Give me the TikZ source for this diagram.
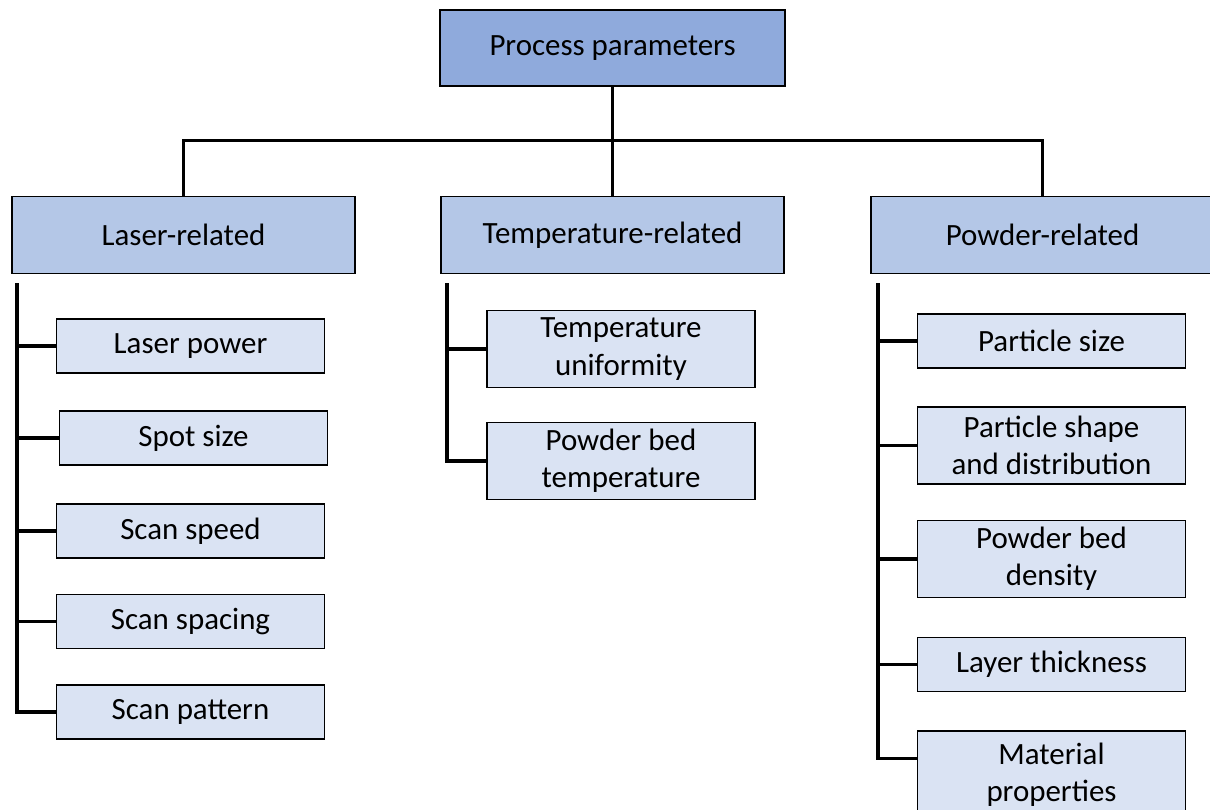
\documentclass[tikz,border=0pt]{standalone}
\usepackage{fontspec}
\setmainfont{Carlito}
\usepackage{tikz}
\usetikzlibrary{positioning, calc}

\definecolor{rootblue}{HTML}{8FAADC}
\definecolor{groupblue}{HTML}{B4C7E7}
\definecolor{leafblue}{HTML}{DAE3F3}

\tikzset{
    box/.style={draw=black, line width=1.3pt, align=center, inner sep=0pt,
                font=\fontsize{22}{26.5}\selectfont},
    rootbox/.style={box, fill=rootblue, minimum width=8.625cm, minimum height=1.9cm},
    groupbox/.style={box, fill=groupblue, minimum width=8.575cm, minimum height=1.925cm},
    leafbox/.style={box, fill=leafblue, minimum width=6.7cm, minimum height=1.35cm},
    tallbox/.style={leafbox, minimum height=1.925cm},
    link/.style={draw=black, line width=2.2pt}
}

\begin{document}
\begin{tikzpicture}[x=0.025cm, y=-0.025cm]
    \useasboundingbox (0,0) rectangle (1210,809);

    \node[rootbox]  (root)   at (612.5,48)   {Process parameters};
    \node[groupbox] (laser)  at (183.5,235) {Laser-related};
    \node[groupbox] (temp)   at (612.5,235) {Temperature-related};
    \node[groupbox] (powder) at (1042.5,235) {Powder-related};

    % laser column
    \node[leafbox] (lp1) at (190.5,346)   {Laser power};
    \node[leafbox] (lp2) at (193.5,438)   {Spot size};
    \node[leafbox] (lp3) at (190.5,531)   {Scan speed};
    \node[leafbox] (lp4) at (190.5,621.5) {Scan spacing};
    \node[leafbox] (lp5) at (190.5,712)   {Scan pattern};

    % temperature column
    \node[tallbox] (tp1) at (621,349) {Temperature\\uniformity};
    \node[tallbox] (tp2) at (621,461) {Powder bed\\temperature};

    % powder column
    \node[leafbox] (pp1) at (1051.5,341)   {Particle size};
    \node[tallbox] (pp2) at (1051.5,445.5) {Particle shape\\and distribution};
    \node[tallbox] (pp3) at (1051.5,559)   {Powder bed\\density};
    \node[leafbox] (pp4) at (1051.5,664.5) {Layer thickness};
    \node[tallbox, minimum height=2.2cm] (pp5) at (1051.5,775) {Material\\properties};

    \coordinate (laserT)  at (17,283);
    \coordinate (tempT)   at (447,283);
    \coordinate (powderT) at (878,283);
    \coordinate (pp5in)   at ($(pp5.north west)+(0,28)$);

    % top level
    \draw[link] (root.south) -- (temp.north);
    \draw[link] (laser.north) -- ++(0,-55) -| (powder.north);

    % trunks
    \draw[link] (laserT) |- (lp5.west);
    \draw[link] (tempT) |- (tp2.west);
    \draw[link] (powderT) |- (pp5in);
    \foreach \n in {lp1,lp2,lp3,lp4}
        \draw[link] (laserT |- \n.west) -- (\n.west);
    \draw[link] (tempT |- tp1.west) -- (tp1.west);
    \foreach \n in {pp1,pp2,pp3,pp4}
        \draw[link] (powderT |- \n.west) -- (\n.west);
\end{tikzpicture}
\end{document}
